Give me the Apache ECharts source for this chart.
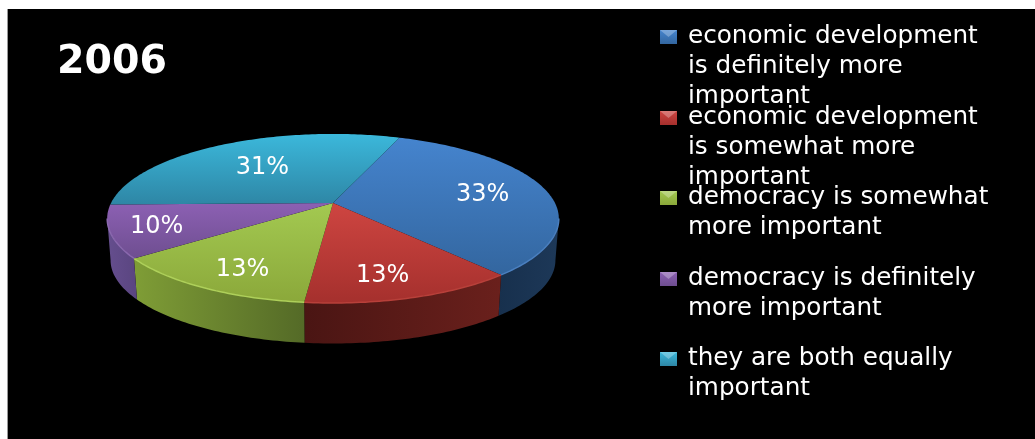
<!DOCTYPE html>
<html>
<head>
<meta charset="utf-8">
<title>2006</title>
<style>
  html, body { margin: 0; padding: 0; background: #fff; }
  #chart { width: 1035px; height: 439px; }
</style>
<script src="https://cdn.jsdelivr.net/npm/echarts@6/dist/echarts.min.js"></script>
</head>
<body>
<div id="chart"></div>
<script>
// Survey shares for 2006, clockwise from the first slice
const titleText = '2006';
const categories = [
  'economic development is definitely more important',
  'economic development is somewhat more important',
  'democracy is somewhat more important',
  'democracy is definitely more important',
  'they are both equally important'
];
const legendLines = [
  ['economic development', 'is definitely more', 'important'],
  ['economic development', 'is somewhat more', 'important'],
  ['democracy is somewhat', 'more important'],
  ['democracy is definitely', 'more important'],
  ['they are both equally', 'important']
];
const shares = [33, 13, 13, 10, 31];

// Slice colours: lit top face and shaded side wall
const topLight = ['#4584CE', '#CE4541', '#A3C951', '#8C60B3', '#3BB8DB'];
const topDark = ['#33669F', '#A5302D', '#8BA83A', '#6E4E90', '#2E86A5'];
const wallLight = ['#1D3858', '#6A201C', '#7F9D36', '#654E8E', '#2E86A5'];
const wallDark = ['#17304D', '#4A1513', '#546A27', '#5A4580', '#2E86A5'];
const rimTint = ['#4A7FBF', '#B8403A', '#AED05A', '#8A68AE', '#3BB8DB'];
const swatchFill = ['#3D77BC', '#BD3C39', '#93B544', '#7B56A3', '#33A3C4'];

// Label placement inside each slice: radial fraction and angular nudge
const labelRadius = [0.7, 0.78, 0.783, 0.8, 0.6];
const labelNudge = [0, 3, -2.5, 0, 0];
const labelDrop = 1.5;

// Perspective of the tilted disc
const FONT = '"DejaVu Sans", Verdana, sans-serif';
const cx = 333, cy = 203;
const spanX = 222, spanY = 81.7, persp = 0.183;
const depth = 42, lowerScale = 0.985;
const startDeg = 20.5;
// The part of the rim whose wall faces the viewer
const wallFrom = 100.5, wallTo = 259.5;

function project(deg, r, lower) {
  const a = deg * Math.PI / 180;
  const u = Math.sin(a) * r, v = -Math.cos(a) * r;
  const k = 1 / (1 - persp * v);
  const s = lower ? lowerScale : 1;
  return [cx + spanX * u * k * s, cy + spanY * v * k * s + (lower ? depth : 0)];
}

function sliceRange(index) {
  const total = shares.reduce((a, b) => a + b, 0);
  let from = startDeg;
  for (let i = 0; i < index; i++) from += shares[i] / total * 360;
  return [from, from + shares[index] / total * 360];
}

function arc(from, to, lower) {
  const pts = [];
  const n = Math.max(2, Math.ceil(Math.abs(to - from)));
  for (let i = 0; i <= n; i++) pts.push(project(from + (to - from) * i / n, 1, lower));
  return pts;
}

// The wall spans the slice's overlap with the viewer-facing part of the rim
function visibleRim(index) {
  const [a, b] = sliceRange(index);
  const from = Math.max(a, wallFrom), to = Math.min(b, wallTo);
  return to > from ? [from, to] : null;
}

function renderWalls(params, api) {
  const i = params.dataIndex;
  const vis = visibleRim(i);
  if (!vis) return { type: 'group', children: [] };
  const points = arc(vis[0], vis[1], false).concat(arc(vis[0], vis[1], true).reverse());
  return {
    type: 'polygon',
    shape: { points },
    style: {
      fill: new echarts.graphic.LinearGradient(0, 0, 1, 0, [
        { offset: 0, color: i === 0 || i === 1 ? wallDark[i] : wallLight[i] },
        { offset: 1, color: i === 0 || i === 1 ? wallLight[i] : wallDark[i] }
      ])
    }
  };
}

function renderTop(index) {
  return function (params, api) {
    const value = api.value(0);
    const [from, to] = sliceRange(index);
    const children = [{
      type: 'polygon',
      shape: { points: [[cx, cy]].concat(arc(from, to, false)) },
      style: {
        fill: new echarts.graphic.LinearGradient(0, 0, 0, 1, [
          { offset: 0, color: topLight[index] },
          { offset: 1, color: topDark[index] }
        ])
      }
    }];
    const vis = visibleRim(index);
    if (vis) {
      children.push({
        type: 'polyline',
        shape: { points: arc(vis[0], vis[1], false) },
        style: { stroke: rimTint[index], lineWidth: 1.5, fill: null }
      });
    }
    const mid = (from + to) / 2 + labelNudge[index];
    const at = project(mid, labelRadius[index], false);
    children.push({
      type: 'text',
      z2: 10,
      style: {
        x: at[0], y: at[1] + labelDrop, text: value + '%',
        fill: '#fff', font: '24px ' + FONT,
        align: 'center', verticalAlign: 'middle'
      }
    });
    return { type: 'group', children };
  };
}

// Each entry is anchored by its first line; blank lines centre that line on the swatch
const legendFirstLine = [37, 118, 198, 279, 359];
const legendLineHeight = 30;
const legends = categories.map((name, i) => {
  const blanks = legendLines[i].length - 1;
  const rows = legendLines[i].length + blanks;
  return {
    data: [{
      name,
      icon: 'rect',
      itemStyle: {
        color: new echarts.graphic.LinearGradient(0, 0, 0, 1, [
          { offset: 0, color: topLight[i] },
          { offset: 1, color: topDark[i] }
        ])
      }
    }],
    left: 660,
    top: legendFirstLine[i] - rows * legendLineHeight / 2 - 1,
    padding: 0,
    itemWidth: 17,
    itemHeight: 14,
    selectedMode: false,
    formatter: () => '\n'.repeat(blanks) + legendLines[i].join('\n'),
    textStyle: {
      color: '#fff',
      fontFamily: FONT,
      fontSize: 24.7,
      lineHeight: legendLineHeight,
      padding: [2, 0, 0, 6]
    }
  };
});

// Light bevel across the top of each swatch
const bevels = legendFirstLine.map((y) => ({
  type: 'polygon',
  z: 20,
  silent: true,
  shape: { points: [[660, y - 7], [677, y - 7], [668.5, y]] },
  style: { fill: 'rgba(255,255,255,0.28)' }
}));

const chart = echarts.init(document.getElementById('chart'), null, { renderer: 'canvas' });
chart.setOption({
  animation: false,
  backgroundColor: '#fff',
  title: {
    text: titleText,
    left: 57,
    top: 43,
    padding: 0,
    textStyle: { color: '#fff', fontFamily: FONT, fontSize: 39.5, fontWeight: 'bold' }
  },
  legend: legends,
  graphic: [
    { type: 'rect', z: 0, silent: true, shape: { x: 8, y: 9, width: 1027, height: 430 }, style: { fill: '#000' } },
    { type: 'rect', z: 0, silent: true, shape: { x: 7, y: 9, width: 1, height: 430 }, style: { fill: '#999' } }
  ].concat(bevels),
  series: [{
    type: 'custom',
    name: 'side walls',
    coordinateSystem: 'none',
    z: 1,
    silent: true,
    data: shares.map((v) => [v]),
    renderItem: renderWalls
  }].concat(categories.map((name, i) => ({
    type: 'custom',
    name,
    coordinateSystem: 'none',
    z: 2,
    silent: true,
    itemStyle: { color: swatchFill[i] },
    data: [[shares[i]]],
    renderItem: renderTop(i)
  })))
});
</script>
</body>
</html>
